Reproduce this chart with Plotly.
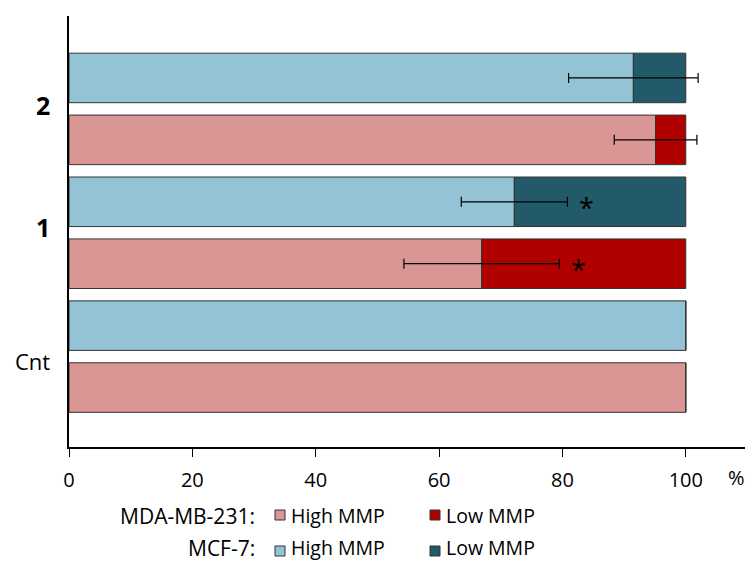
import plotly.graph_objects as go

# Groups along the vertical axis (bottom to top)
groups = ["Cnt", "1", "2"]

# MDA-MB-231: share of cells with high / low mitochondrial membrane potential (%)
mda_high = [100.0, 66.9, 95.1]
mda_low = [0.0, 33.1, 4.9]
mda_err = [0.0, 12.6, 6.7]

# MCF-7
mcf_high = [100.0, 72.2, 91.5]
mcf_low = [0.0, 27.8, 8.5]
mcf_err = [0.0, 8.6, 10.5]

# significance markers per group
mda_sig = ["", "*", ""]
mcf_sig = ["", "*", ""]

x_ticks = [0, 20, 40, 60, 80, 100]

C_MDA_HIGH = "#DA9694"
C_MDA_LOW = "#B00000"
C_MCF_HIGH = "#93C3D5"
C_MCF_LOW = "#235A69"
OUTLINE = "#333333"
FONT = "Open Sans"

# each group holds two bars: MDA-MB-231 below, MCF-7 above
y_mda = [2 * i for i in range(len(groups))]
y_mcf = [2 * i + 1 for i in range(len(groups))]
bar_w = 0.8

fig = go.Figure()

def bar(y, x, color, base=None):
    return go.Bar(
        y=y, x=x, base=base, orientation="h", width=bar_w,
        marker=dict(color=color, line=dict(color=OUTLINE, width=1)),
        showlegend=False, hoverinfo="x",
    )

fig.add_trace(bar(y_mda, mda_high, C_MDA_HIGH))
fig.add_trace(bar(y_mda, mda_low, C_MDA_LOW, base=mda_high))
fig.add_trace(bar(y_mcf, mcf_high, C_MCF_HIGH))
fig.add_trace(bar(y_mcf, mcf_low, C_MCF_LOW, base=mcf_high))

# error bars drawn last so they sit on top of both stacked segments
for ys, hi, er in ((y_mda, mda_high, mda_err), (y_mcf, mcf_high, mcf_err)):
    keep = [k for k, e in enumerate(er) if e > 0]
    fig.add_trace(go.Scatter(
        x=[hi[k] for k in keep], y=[ys[k] for k in keep], mode="markers",
        marker=dict(size=1, color="rgba(0,0,0,0)"),
        error_x=dict(type="data", array=[er[k] for k in keep], symmetric=True,
                     color="black", thickness=1.2, width=5, visible=True),
        showlegend=False, hoverinfo="skip",
    ))

annotations = []

# group labels left of the axis
label_shift = {"Cnt": -4, "1": 6, "2": 4}
for i, g in enumerate(groups):
    txt = g if g == "Cnt" else f"<b>{g}</b>"
    size = 22 if g == "Cnt" else 25
    annotations.append(dict(
        x=0, xref="paper", xshift=-17, xanchor="right",
        y=2 * i + 0.5, yref="y", yanchor="middle", yshift=label_shift[g],
        text=txt, showarrow=False, font=dict(family=FONT, size=size, color="black"),
    ))

# significance asterisks beside the error bars
for ys, hi, er, sig in ((y_mda, mda_high, mda_err, mda_sig), (y_mcf, mcf_high, mcf_err, mcf_sig)):
    for y, h, e, s in zip(ys, hi, er, sig):
        if s:
            annotations.append(dict(
                x=h + e + 3.1, xref="x", xanchor="center",
                y=y, yref="y", yanchor="middle", yshift=-6,
                text=s, showarrow=False,
                font=dict(family=FONT, size=27, color="black"),
            ))

# unit label at the end of the x axis
annotations.append(dict(
    x=108.2, xref="x", y=0, yref="paper", yshift=-30, yanchor="middle",
    text="%", showarrow=False, font=dict(family=FONT, size=20, color="black"),
))

# hand-built legend rows beneath the axis
W, H = 676.0, 431.0
def px(xp):
    return (xp - 69) / W
def py(yp):
    return (447 - yp) / H

shapes = []
legend_rows = [
    ("MDA-MB-231:", 515.5, 515.0, [(C_MDA_HIGH, "High MMP"), (C_MDA_LOW, "Low MMP")]),
    ("MCF-7:", 547.5, 551.0, [(C_MCF_HIGH, "High MMP"), (C_MCF_LOW, "Low MMP")]),
]
for label, yc, yb, items in legend_rows:
    annotations.append(dict(
        x=px(257), xref="paper", xanchor="right", y=py(yc), yref="paper", yanchor="middle",
        text=label, showarrow=False, font=dict(family=FONT, size=21, color="black"),
    ))
    for (color, name), x0 in zip(items, (275, 430)):
        shapes.append(dict(
            type="rect", xref="paper", yref="paper",
            x0=px(x0), x1=px(x0 + 10), y0=py(yb + 5), y1=py(yb - 5),
            fillcolor=color, line=dict(color=OUTLINE, width=1),
        ))
        annotations.append(dict(
            x=px(x0 + 14), xref="paper", xanchor="left", y=py(yc), yref="paper", yanchor="middle",
            text=name, showarrow=False, font=dict(family=FONT, size=19.5, color="black"),
        ))

fig.update_layout(
    width=748, height=561,
    margin=dict(l=69, r=3, t=16, b=114),
    paper_bgcolor="white", plot_bgcolor="white",
    barmode="overlay",
    font=dict(family=FONT, size=20, color="black"),
    xaxis=dict(
        range=[0, 109.6], tickvals=x_ticks, ticks="outside", ticklen=8,
        tickcolor="black", tickwidth=1.2, showline=True, linecolor="black",
        linewidth=1.5, showgrid=False, zeroline=False, ticklabelstandoff=6,
        tickfont=dict(family=FONT, size=20, color="black"),
    ),
    yaxis=dict(
        range=[-0.96, 6.0], showticklabels=False, ticks="", showline=True,
        linecolor="black", linewidth=1.5, showgrid=False, zeroline=False,
    ),
    annotations=annotations,
    shapes=shapes,
)

fig.write_html("out.html")
